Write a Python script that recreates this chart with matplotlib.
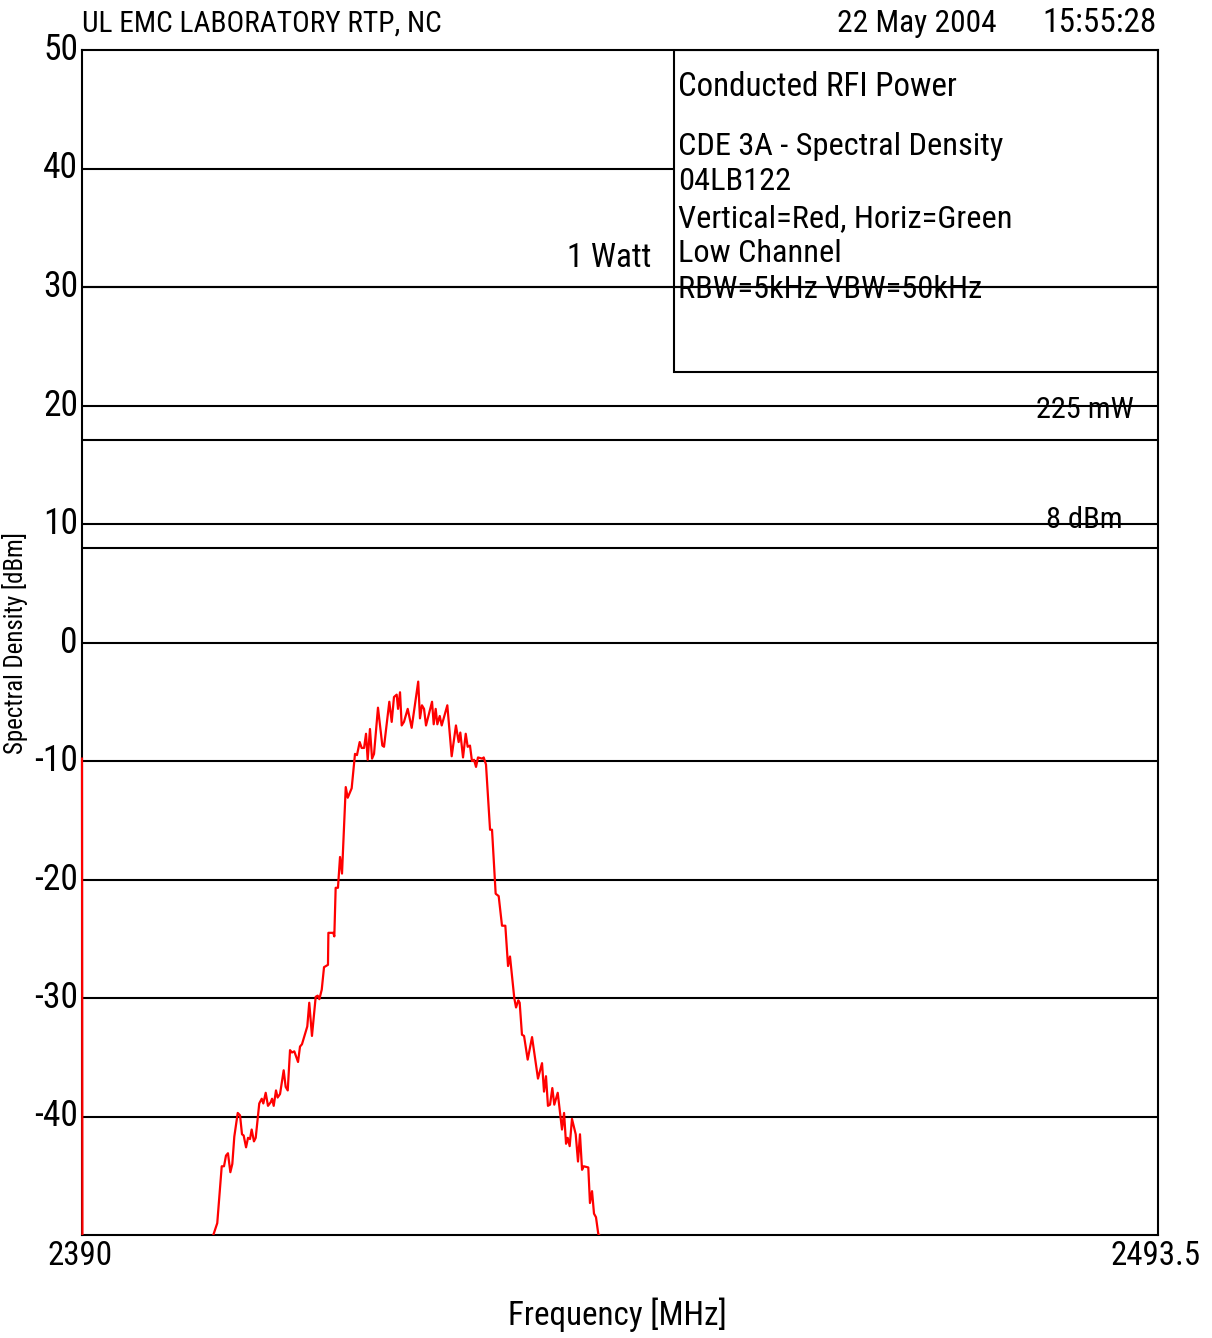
import numpy as np
import matplotlib
matplotlib.use("Agg")
import matplotlib.pyplot as plt
from matplotlib import font_manager as fm
from matplotlib.patches import Rectangle

# ---------------------------------------------------------------- data
freq_mhz = [
    2390.00, 2390.05, 2402.50, 2402.63, 2403.01, 2403.44, 2403.66, 2403.85,
    2404.04, 2404.27, 2404.46, 2404.65, 2404.98, 2405.20, 2405.39, 2405.55,
    2405.78, 2405.97, 2406.16, 2406.32, 2406.54, 2406.71, 2407.05, 2407.29,
    2407.44, 2407.67, 2407.89, 2408.15, 2408.28, 2408.44, 2408.66, 2408.82,
    2409.05, 2409.40, 2409.59, 2409.79, 2410.01, 2410.20, 2410.42, 2410.78,
    2410.97, 2411.16, 2411.67, 2411.86, 2412.12, 2412.48, 2412.67, 2412.83,
    2413.06, 2413.28, 2413.66, 2413.70, 2414.17, 2414.27, 2414.40, 2414.62,
    2414.82, 2415.01, 2415.37, 2415.56, 2415.94, 2416.26, 2416.45, 2416.71,
    2416.90, 2417.13, 2417.32, 2417.48, 2417.70, 2417.90, 2418.09, 2418.47,
    2418.89, 2419.05, 2419.56, 2419.79, 2420.01, 2420.27, 2420.40, 2420.59,
    2420.75, 2420.97, 2421.33, 2421.71, 2422.34, 2422.51, 2422.70, 2422.90,
    2423.09, 2423.67, 2423.83, 2424.02, 2424.18, 2424.41, 2424.60, 2425.14,
    2425.56, 2425.97, 2426.23, 2426.39, 2426.65, 2426.91, 2427.10, 2427.32,
    2427.51, 2427.71, 2427.90, 2428.09, 2428.50, 2428.64, 2428.86, 2429.25,
    2429.44, 2429.79, 2430.08, 2430.40, 2430.72, 2430.98, 2431.17, 2431.58,
    2431.75, 2431.97, 2432.10, 2432.32, 2432.52, 2432.87, 2433.29, 2433.86,
    2434.25, 2434.44, 2434.63, 2434.82, 2435.02, 2435.24, 2435.43, 2435.76,
    2436.17, 2436.37, 2436.56, 2436.72, 2436.91, 2437.13, 2437.49, 2437.71,
    2437.90, 2438.10, 2438.26, 2438.70, 2438.86, 2439.06, 2439.25, 2439.44,
    2439.66, 2439.83, 2440.00, 2493.50,
]
level_dbm = [
    -9.8, -60.0, -60.0, -50.0, -49.0, -44.2, -44.2, -43.3,
    -43.1, -44.7, -44.0, -41.7, -39.7, -39.9, -41.5, -41.6,
    -42.6, -41.8, -41.9, -41.1, -42.1, -41.8, -38.9, -38.5,
    -38.9, -38.0, -39.1, -38.8, -38.5, -39.1, -37.8, -38.4,
    -38.1, -36.1, -37.5, -37.8, -34.4, -34.6, -34.5, -35.4,
    -34.1, -33.9, -32.4, -30.4, -33.2, -29.9, -29.8, -30.1,
    -29.3, -27.4, -27.2, -24.5, -24.5, -24.8, -20.7, -20.7,
    -18.1, -19.5, -12.2, -13.1, -12.3, -9.4, -9.5, -8.4,
    -8.9, -8.9, -7.7, -9.9, -7.3, -9.8, -9.4, -5.5,
    -8.7, -8.8, -5.0, -6.7, -4.6, -4.4, -5.6, -4.2,
    -7.0, -6.7, -5.6, -7.2, -3.3, -6.4, -5.3, -5.6,
    -7.0, -5.0, -6.9, -5.6, -6.9, -6.2, -7.0, -5.3,
    -9.6, -7.0, -8.4, -7.6, -9.7, -7.7, -8.8, -8.7,
    -10.0, -9.9, -10.5, -9.7, -9.8, -9.7, -10.3, -15.8,
    -15.8, -21.2, -21.4, -23.9, -23.9, -27.3, -26.5, -30.0,
    -30.8, -30.2, -30.4, -33.1, -33.2, -35.2, -33.3, -36.8,
    -35.5, -37.9, -36.6, -39.1, -39.0, -37.6, -39.0, -38.0,
    -41.1, -39.7, -42.3, -41.8, -42.5, -40.2, -41.5, -43.8,
    -41.5, -44.5, -44.2, -44.3, -47.3, -46.3, -48.2, -48.5,
    -49.9, -50.1, -60.0, -60.0,
]

x_range = (2390.0, 2493.5)
y_range = (-50, 50)
y_ticks = [50, 40, 30, 20, 10, 0, -10, -20, -30, -40]
y_tick_labels = ["50", "40", "30", "20", "10", "0", "-10", "-20", "-30", "-40"]
x_tick_labels = ["2390", "2493.5"]

limit_levels = [30.0, 17.1, 8.0]
limit_labels = ["1 Watt", "225 mW", "8 dBm"]

header_left = "UL EMC LABORATORY RTP, NC"
header_date = "22 May 2004"
header_time = "15:55:28"
info_title = "Conducted RFI Power"
info_lines = ["CDE 3A - Spectral Density", "04LB122",
              "Vertical=Red, Horiz=Green", "Low Channel", "RBW=5kHz VBW=50kHz"]
x_label = "Frequency [MHz]"
y_label = "Spectral Density [dBm]"

# ---------------------------------------------------------------- font
names = {f.name for f in fm.fontManager.ttflist}
font_kw = {"family": "DejaVu Sans"}
for cand in ["Liberation Sans Narrow", "Roboto Condensed", "Open Sans Condensed"]:
    if cand in names:
        font_kw = {"family": cand}
        break
else:
    for f in fm.fontManager.ttflist:
        if f.name == "DejaVu Sans" and "ondensed" in f.fname and "Bold" not in f.fname \
                and "Oblique" not in f.fname:
            font_kw = {"family": "DejaVu Sans", "stretch": "condensed"}
            break

# ---------------------------------------------------------------- figure
W, H = 1212, 1338
fig = plt.figure(figsize=(W / 100, H / 100), dpi=100)
fig.patch.set_facecolor("white")

L, R, T, B = 82, 1158, 50, 1235
ax = fig.add_axes([L / W, 1 - B / H, (R - L) / W, (B - T) / H])
ax.set_xlim(*x_range)
ax.set_ylim(*y_range)
ax.set_xticks([])
ax.set_yticks([])
for s in ax.spines.values():
    s.set_linewidth(1.5)
    s.set_color("black")

LW = 1.5
box_x0 = (674 - L) / (R - L)
box_y0 = (B - 372) / (B - T)

# grid lines (the 40 dBm line stops at the information box)
for v in y_ticks[1:]:
    if v == 40:
        ax.axhline(v, xmin=0, xmax=box_x0, color="black", lw=LW, zorder=1)
    else:
        ax.axhline(v, color="black", lw=LW, zorder=1.5)

# limit lines
for v in limit_levels:
    ax.axhline(v, color="black", lw=LW, zorder=1.5)

# information box
ax.add_patch(Rectangle((box_x0, box_y0), 1 - box_x0, 1 - box_y0,
                       transform=ax.transAxes, facecolor="white",
                       edgecolor="black", lw=LW, zorder=1.2))

# spectrum trace
trace, = ax.plot(freq_mhz, level_dbm, color="#ff0000", lw=1.6, zorder=3)
clip = Rectangle((-0.01, 0), 1.01, 1.0, transform=ax.transAxes,
                 facecolor="none", edgecolor="none")
trace.set_clip_path(clip)

# ---------------------------------------------------------------- texts
def P(x, y):
    return x / W, 1 - y / H

texts = []

def put(s, x, y, width=None, height=None, ha="left", va="baseline", size=20, **kw):
    t = fig.text(*P(x, y), s, ha=ha, va=va, fontsize=size, color="black",
                 **font_kw, **kw)
    texts.append((t, width, height))
    return t

put(header_left, 82, 32, width=360)
put(header_date, 997, 32, width=159, ha="right")
put(header_time, 1157, 32, width=114, ha="right")

tick_objs = []
for v, lab in zip(y_ticks, y_tick_labels):
    y = B - (v - y_range[0]) / (y_range[1] - y_range[0]) * (B - T)
    t = fig.text(*P(78, y), lab, ha="right", va="center", fontsize=20,
                 color="black", **font_kw)
    tick_objs.append(t)

xt0 = fig.text(*P(80, 1265), x_tick_labels[0], ha="center", va="baseline",
               fontsize=20, color="black", **font_kw)
xt1 = fig.text(*P(1156, 1265), x_tick_labels[1], ha="center", va="baseline",
               fontsize=20, color="black", **font_kw)
put(x_label, 617, 1325, width=219, ha="center")

# vertical axis title in the narrow strip left of the tick labels
yl = fig.text(*P(2, 643), y_label, rotation=90, ha="left", va="center",
              fontsize=20, color="black", **font_kw)
texts.append((yl, 26, None))

put(info_title, 678, 96, width=279)
info_base = [155, 190, 227, 262, 298]
info_objs = []
for s, yb in zip(info_lines, info_base):
    info_objs.append(put(s, 678, yb, size=20))

watt = put(limit_labels[0], 651, 267, width=84, ha="right")
lim1 = fig.text(*P(1085, 418), limit_labels[1], ha="center", va="baseline",
                fontsize=20, color="black", **font_kw)
lim2 = fig.text(*P(1084, 528), limit_labels[2], ha="center", va="baseline",
                fontsize=20, color="black", **font_kw)

# size each text so its extent matches the layout
fig.canvas.draw()
r = fig.canvas.get_renderer()
for t, w, h in texts:
    bb = t.get_window_extent(renderer=r)
    if w:
        t.set_fontsize(t.get_fontsize() * w / bb.width)
    elif h:
        t.set_fontsize(t.get_fontsize() * h / bb.height)

# tick labels share one size, fitted on "-40"
bb = tick_objs[-1].get_window_extent(renderer=r)
fs_tick = tick_objs[-1].get_fontsize() * 44 / bb.width
for t in tick_objs:
    t.set_fontsize(fs_tick)
for t in (xt0, xt1):
    t.set_fontsize(fs_tick * 0.93)

# the power-limit labels are a little smaller than "1 Watt"
for t in (lim1, lim2):
    t.set_fontsize(watt.get_fontsize() * 0.92)

# info lines share one size, fitted on the first line
bb = info_objs[0].get_window_extent(renderer=r)
fs_info = info_objs[0].get_fontsize() * 324 / bb.width
for t in info_objs:
    t.set_fontsize(fs_info)

fig.savefig("out.png", dpi=100, facecolor="white")
